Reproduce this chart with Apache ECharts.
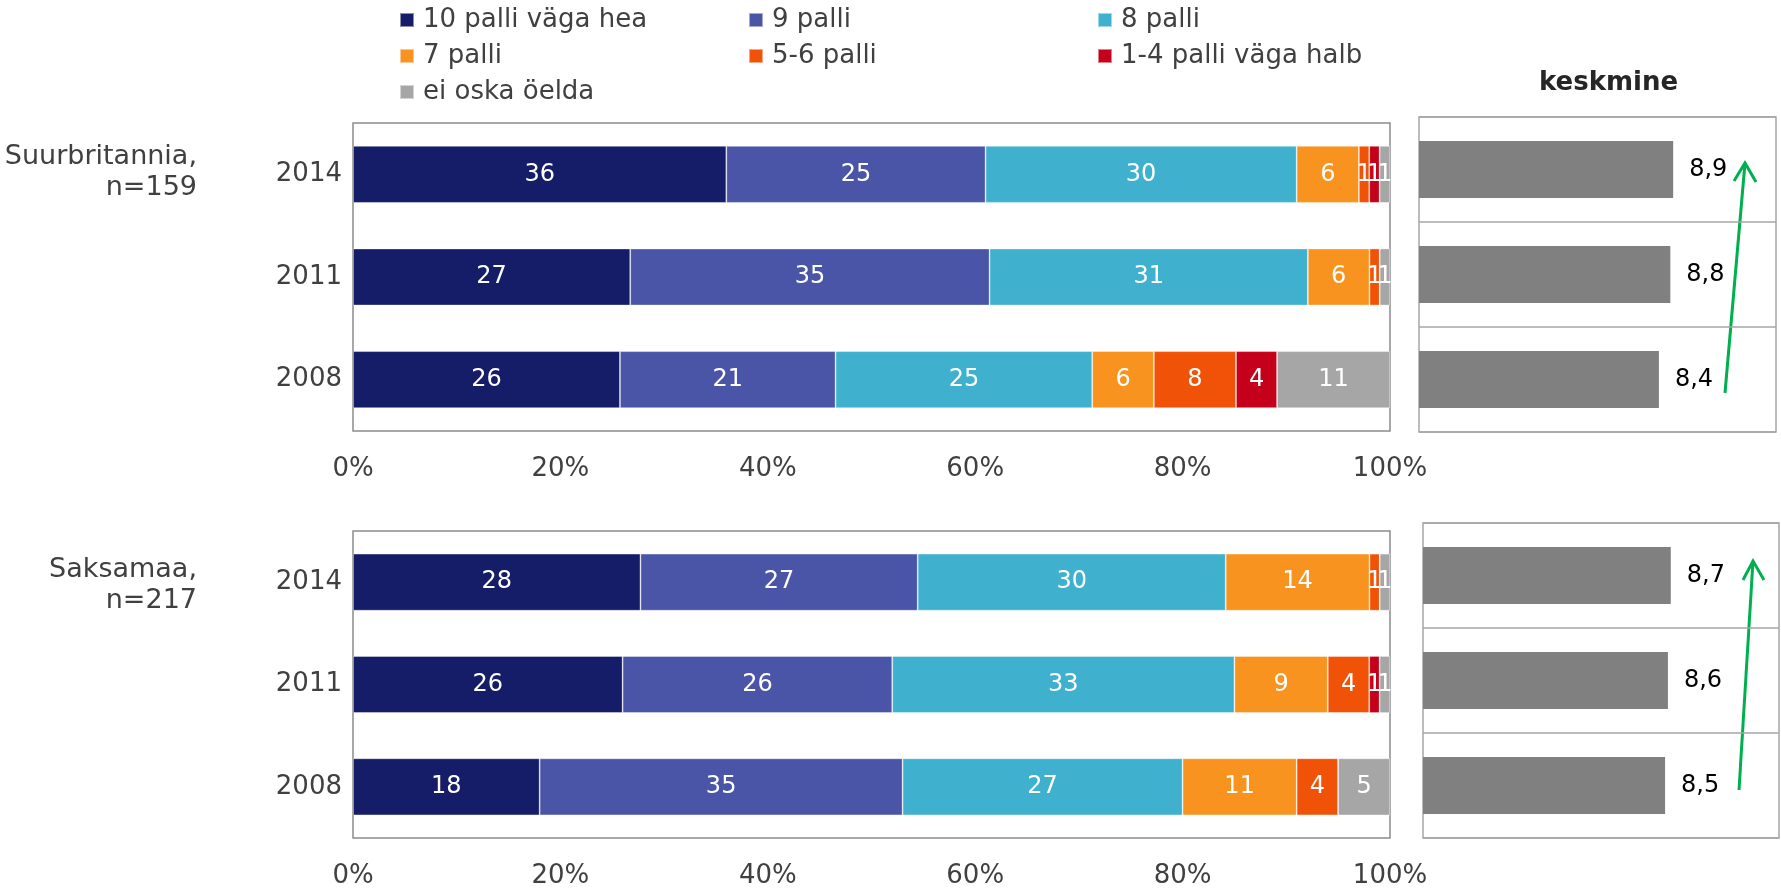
<!DOCTYPE html>
<html>
<head>
<meta charset="utf-8">
<script src="https://cdn.jsdelivr.net/npm/echarts@6/dist/echarts.min.js"></script>
<style>
  html, body { margin: 0; padding: 0; background: #fff; }
  #container { width: 1781px; height: 889px; }
</style>
</head>
<body>
<div id="container"></div>
<script>
// years, top row first
var years = ['2014', '2011', '2008'];
var names = ['10 palli väga hea', '9 palli', '8 palli', '7 palli', '5-6 palli', '1-4 palli väga halb', 'ei oska öelda'];
var colors = ['#151C68', '#4A55A8', '#3FB1CE', '#F7931E', '#F05308', '#C4001A', '#A6A6A6'];

// Suurbritannia, n=159
var uk10 = [36, 27, 26];
var uk9 = [25, 35, 21];
var uk8 = [30, 31, 25];
var uk7 = [6, 6, 6];
var uk56 = [1, 1, 8];
var uk14 = [1, 0, 4];
var ukEi = [1, 1, 11];
var ukMean = [8.9, 8.8, 8.4];

// Saksamaa, n=217
var de10 = [28, 26, 18];
var de9 = [27, 26, 35];
var de8 = [30, 33, 27];
var de7 = [14, 9, 11];
var de56 = [1, 4, 4];
var de14 = [0, 1, 0];
var deEi = [1, 1, 5];
var deMean = [8.7, 8.6, 8.5];

var pctTicks = ['0%', '20%', '40%', '60%', '80%', '100%'];

var font = 'DejaVu Sans';
var textColor = '#404040';

// 100% stacked: every row is scaled to its own total
function stackSeries(rows, gridIdx, stackName) {
    var totals = years.map(function (y, i) {
        return rows.reduce(function (s, r) { return s + r[i]; }, 0);
    });
    return rows.map(function (r, k) {
        return {
            name: names[k],
            type: 'bar',
            stack: stackName,
            xAxisIndex: gridIdx,
            yAxisIndex: gridIdx,
            barWidth: 57,
            itemStyle: { color: colors[k], borderColor: 'rgba(255,255,255,0.5)', borderWidth: 0.8 },
            label: {
                show: true,
                position: 'inside',
                color: '#fff',
                fontFamily: font,
                fontSize: 24,
                formatter: function (p) { return p.data.raw; }
            },
            data: r.map(function (v, i) {
                return { value: v / totals[i] * 100, raw: v, label: { show: v > 0 } };
            })
        };
    });
}

function meanSeries(vals, gridIdx) {
    return {
        name: 'keskmine',
        type: 'bar',
        xAxisIndex: gridIdx,
        yAxisIndex: gridIdx,
        barWidth: 57,
        itemStyle: { color: '#808080' },
        label: {
            show: true,
            position: 'right',
            distance: 16,
            color: '#000',
            fontFamily: font,
            fontSize: 24,
            formatter: function (p) { return String(p.value).replace('.', ','); }
        },
        data: vals
    };
}

function pctX(gridIdx) {
    return {
        type: 'value', gridIndex: gridIdx, min: 0, max: 100, interval: 20,
        axisLine: { show: false }, axisTick: { show: false }, splitLine: { show: false },
        axisLabel: {
            margin: 25, color: textColor, fontFamily: font, fontSize: 26,
            formatter: function (v) { return pctTicks[v / 20]; }
        }
    };
}
function meanX(gridIdx) {
    return {
        type: 'value', gridIndex: gridIdx, min: 0, max: 12.5, show: false,
        splitLine: { show: false }
    };
}
function yearY(gridIdx) {
    return {
        type: 'category', gridIndex: gridIdx, data: years, inverse: true,
        axisLine: { show: false }, axisTick: { show: false },
        axisLabel: { margin: 11, color: textColor, fontFamily: font, fontSize: 26 }
    };
}
function meanY(gridIdx) {
    return {
        type: 'category', gridIndex: gridIdx, data: years, inverse: true,
        axisLine: { show: false }, axisTick: { show: false }, axisLabel: { show: false },
        splitLine: { show: true, lineStyle: { color: '#A6A6A6', width: 1.5 } }
    };
}

function legendCol(left, data) {
    return {
        orient: 'vertical', left: left, top: 7, padding: 0,
        itemWidth: 14, itemHeight: 14, itemGap: 10, icon: 'rect',
        data: data,
        textStyle: { color: textColor, fontFamily: font, fontSize: 26, lineHeight: 26, padding: [0, 0, 0, 4] }
    };
}

var myChart = echarts.init(document.getElementById('container'));

var option = {
    backgroundColor: '#fff',
    animation: false,
    legend: [
        legendCol(399, [names[0], names[3], names[6]]),
        legendCol(748, [names[1], names[4]]),
        legendCol(1097, [names[2], names[5]])
    ],
    grid: [
        { left: 353, top: 123, width: 1037, height: 308, show: true, borderColor: '#8C8C8C', borderWidth: 1.5 },
        { left: 1419, top: 117, width: 357, height: 315, show: true, borderColor: '#A6A6A6', borderWidth: 1.5 },
        { left: 353, top: 531, width: 1037, height: 307, show: true, borderColor: '#8C8C8C', borderWidth: 1.5 },
        { left: 1423, top: 523, width: 356, height: 315, show: true, borderColor: '#A6A6A6', borderWidth: 1.5 }
    ],
    xAxis: [pctX(0), meanX(1), pctX(2), meanX(3)],
    yAxis: [yearY(0), meanY(1), yearY(2), meanY(3)],
    series: []
        .concat(stackSeries([uk10, uk9, uk8, uk7, uk56, uk14, ukEi], 0, 'uk'))
        .concat([meanSeries(ukMean, 1)])
        .concat(stackSeries([de10, de9, de8, de7, de56, de14, deEi], 2, 'de'))
        .concat([meanSeries(deMean, 3)]),
    graphic: [
        {
            type: 'text', left: 1539, top: 70,
            style: { text: 'keskmine', fill: '#262626', font: 'bold 26px "DejaVu Sans"' }
        },
        {
            type: 'text', x: 197, y: 172,
            style: { text: 'Suurbritannia,\nn=159', fill: textColor, font: '27px "DejaVu Sans"', lineHeight: 31, align: 'right', verticalAlign: 'middle' }
        },
        {
            type: 'text', x: 197, y: 585,
            style: { text: 'Saksamaa,\nn=217', fill: textColor, font: '27px "DejaVu Sans"', lineHeight: 31, align: 'right', verticalAlign: 'middle' }
        },
        // trend arrows
        { type: 'line', shape: { x1: 1725, y1: 393, x2: 1745, y2: 163 }, style: { stroke: '#00B050', lineWidth: 3 } },
        { type: 'polyline', shape: { points: [[1734, 181], [1745, 163], [1756, 182]] }, style: { stroke: '#00B050', lineWidth: 3, fill: null } },
        { type: 'line', shape: { x1: 1739, y1: 790, x2: 1753, y2: 561 }, style: { stroke: '#00B050', lineWidth: 3 } },
        { type: 'polyline', shape: { points: [[1743, 580], [1753, 561], [1764, 580]] }, style: { stroke: '#00B050', lineWidth: 3, fill: null } }
    ]
};

myChart.setOption(option);
</script>
</body>
</html>
